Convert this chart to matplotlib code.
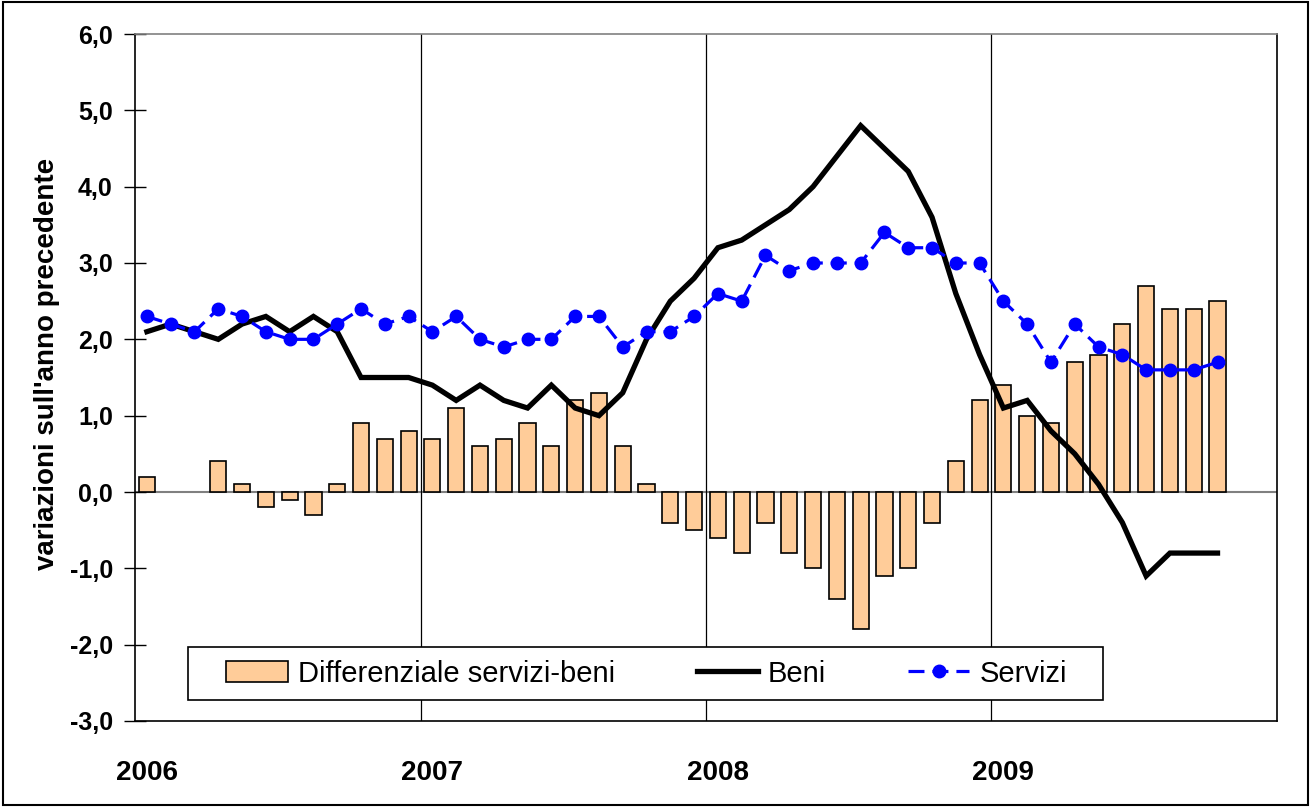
"""Italian CPI: goods vs services yearly change, with services-goods differential."""
import matplotlib
import numpy as np

matplotlib.use("Agg")
import matplotlib.pyplot as plt
from matplotlib.patches import Rectangle

plt.rcParams["font.family"] = ["Liberation Sans", "DejaVu Sans"]

# monthly, Jan 2006 .. Oct 2009
SERVIZI = [2.3, 2.2, 2.1, 2.4, 2.3, 2.1, 2.0, 2.0, 2.2, 2.4, 2.2, 2.3,
           2.1, 2.3, 2.0, 1.9, 2.0, 2.0, 2.3, 2.3, 1.9, 2.1, 2.1, 2.3,
           2.6, 2.5, 3.1, 2.9, 3.0, 3.0, 3.0, 3.4, 3.2, 3.2, 3.0, 3.0,
           2.5, 2.2, 1.7, 2.2, 1.9, 1.8, 1.6, 1.6, 1.6, 1.7]
BENI = [2.1, 2.2, 2.1, 2.0, 2.2, 2.3, 2.1, 2.3, 2.1, 1.5, 1.5, 1.5,
        1.4, 1.2, 1.4, 1.2, 1.1, 1.4, 1.1, 1.0, 1.3, 2.0, 2.5, 2.8,
        3.2, 3.3, 3.5, 3.7, 4.0, 4.4, 4.8, 4.5, 4.2, 3.6, 2.6, 1.8,
        1.1, 1.2, 0.8, 0.5, 0.1, -0.4, -1.1, -0.8, -0.8, -0.8]
DIFF = [0.2, 0.0, 0.0, 0.4, 0.1, -0.2, -0.1, -0.3, 0.1, 0.9, 0.7, 0.8,
        0.7, 1.1, 0.6, 0.7, 0.9, 0.6, 1.2, 1.3, 0.6, 0.1, -0.4, -0.5,
        -0.6, -0.8, -0.4, -0.8, -1.0, -1.4, -1.8, -1.1, -1.0, -0.4, 0.4, 1.2,
        1.4, 1.0, 0.9, 1.7, 1.8, 2.2, 2.7, 2.4, 2.4, 2.5]
YEARS = ["2006", "2007", "2008", "2009"]
N_SLOTS = 48


def main() -> None:
    fig = plt.figure(figsize=(13.11, 8.07), dpi=100)
    ax = fig.add_axes([135/1311, 1-721/807, 1142/1311, 687/807])
    x = np.arange(len(SERVIZI)) + 0.5

    ax.axhline(0, color="#808080", lw=1.5, zorder=1)
    bars = ax.bar(x, DIFF, width=0.68, color="#FFCC99", edgecolor="black", lw=1.2,
                  zorder=2, label="Differenziale servizi-beni")
    for bar, value in zip(bars, DIFF):
        if value == 0:
            bar.set_visible(False)
    ax.plot(x, BENI, color="black", lw=3.8, zorder=3, label="Beni",
            solid_joinstyle="miter")
    ax.plot(x, SERVIZI, color="#0000FF", lw=2.3, ls=(0, (5, 2.5)), marker="o",
            ms=9, zorder=4, label="Servizi")

    ax.set_xlim(0, N_SLOTS)
    ax.set_ylim(-3, 6)
    ax.set_yticks(np.arange(-3, 7))
    ax.set_yticklabels([f"{v:.1f}".replace(".", ",") for v in np.arange(-3, 7)],
                       fontsize=18, fontweight="bold")
    ax.tick_params(axis="y", direction="inout", length=16, width=1, pad=8)
    ax.set_xticks([0.5, 12.5, 24.5, 36.5])
    ax.set_xticklabels(YEARS, fontsize=20, fontweight="bold")
    ax.tick_params(axis="x", which="major", length=0, pad=28)
    ax.set_xticks([12, 24, 36], minor=True)
    ax.tick_params(axis="x", which="minor", length=0)
    ax.grid(axis="x", which="minor", color="black", lw=0.9)
    ax.set_ylabel("variazioni sull'anno precedente", fontsize=20,
                  fontweight="bold")
    ax.yaxis.set_label_coords(-0.066, 0.52)
    for side in ("left", "bottom", "right"):
        ax.spines[side].set_color("black")
        ax.spines[side].set_linewidth(1.2)
    ax.spines["top"].set_color("#808080")
    ax.spines["top"].set_linewidth(1.2)

    # legend box
    x0, y0 = (188-135)/1142, (721-700)/687
    w, h = (1103-188)/1142, 53/687
    ax.add_patch(Rectangle((x0, y0), w, h, transform=ax.transAxes, facecolor="white",
                           edgecolor="black", lw=1.2, zorder=5))
    handles, labels = ax.get_legend_handles_labels()
    order = [labels.index(name) for name in ("Differenziale servizi-beni", "Beni", "Servizi")]
    leg = ax.legend([handles[i] for i in order], [labels[i] for i in order],
                    loc="center", bbox_to_anchor=(x0 + w/2 + 0.001, y0 + h/2),
                    ncol=3, frameon=False, fontsize=21, handlelength=2.1,
                    handletextpad=0.35, columnspacing=2.8, borderpad=0.2)
    leg.set_zorder(6)

    fig.patches.append(Rectangle((0.002, 0.003), 0.996, 0.994, transform=fig.transFigure,
                                 fill=False, edgecolor="black", lw=1.5))
    fig.savefig("out.png", dpi=100)
    plt.close(fig)


if __name__ == "__main__":
    main()
